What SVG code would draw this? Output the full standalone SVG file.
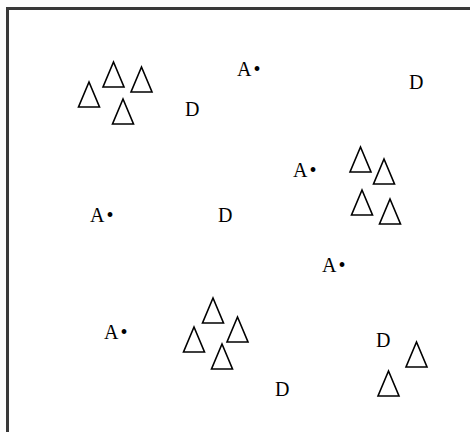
<svg xmlns="http://www.w3.org/2000/svg" xmlns:xlink="http://www.w3.org/1999/xlink" width="470" height="432" viewBox="0 0 470 432">
<style>
.t{font-family:"Liberation Serif","Times New Roman",serif;font-size:20px;fill:#000}
.a{letter-spacing:2px}
.tri{fill:none;stroke:#000;stroke-width:1.6;stroke-linejoin:miter}
</style>
<defs>
<polygon id="tri" class="tri" points="0,0 -10.5,25 10.5,25"/>
</defs>
<rect x="0" y="0" width="470" height="432" fill="#fff"/>
<path d="M7.5,432 V8.5 H470" fill="none" stroke="#3a3a3a" stroke-width="3"/>
<g id="triangles">
<use xlink:href="#tri" x="89" y="82"/>
<use xlink:href="#tri" x="113.5" y="62"/>
<use xlink:href="#tri" x="141.5" y="67"/>
<use xlink:href="#tri" x="123" y="99"/>
<use xlink:href="#tri" x="360.5" y="147"/>
<use xlink:href="#tri" x="384" y="159"/>
<use xlink:href="#tri" x="362" y="190"/>
<use xlink:href="#tri" x="390" y="199"/>
<use xlink:href="#tri" x="213" y="298"/>
<use xlink:href="#tri" x="237.5" y="317"/>
<use xlink:href="#tri" x="194" y="327"/>
<use xlink:href="#tri" x="222" y="344"/>
<use xlink:href="#tri" x="416.5" y="342"/>
<use xlink:href="#tri" x="388.5" y="371"/>
</g>
<g id="labelsA">
<text class="t a" x="237" y="76">A•</text>
<text class="t a" x="293" y="177">A•</text>
<text class="t a" x="90" y="222">A•</text>
<text class="t a" x="322" y="272">A•</text>
<text class="t a" x="104" y="339">A•</text>
</g>
<g id="labelsD">
<text class="t" x="185" y="116">D</text>
<text class="t" x="409" y="89">D</text>
<text class="t" x="218" y="222">D</text>
<text class="t" x="376" y="347">D</text>
<text class="t" x="275" y="396">D</text>
</g>
</svg>
